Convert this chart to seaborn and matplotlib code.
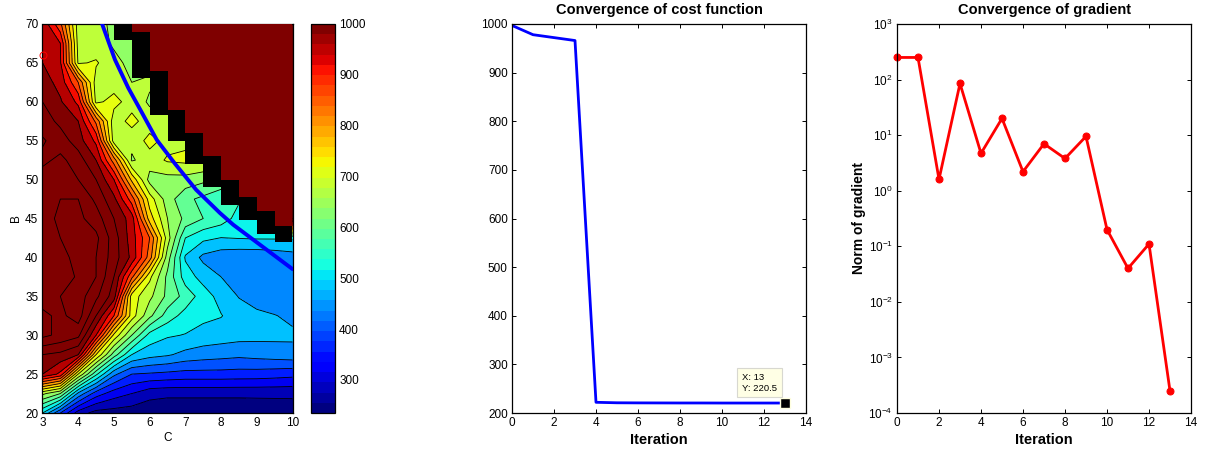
import numpy as np
import seaborn as sns
import matplotlib
matplotlib.use('Agg')
import matplotlib.pyplot as plt
from matplotlib.cm import ScalarMappable
from matplotlib.colors import Normalize

# contour data, rows are B = 70 ... 20, columns C = 3 ... 10
c_vals = [3, 3.5, 4, 4.5, 5, 5.5, 6, 6.5, 7, 7.5, 8, 8.5, 9, 9.5, 10]
b_vals = [70, 67.5, 65, 62.5, 60, 57.5, 55, 52.5, 50, 47.5, 45, 42.5, 40, 37.5, 35, 32.5, 30, 27.5, 25, 22.5, 20]
cost_grid = [
    [990, 890, 700, 695, 670, 660, 660, 660, 660, 660, 660, 660, 660, 660, 1100],
    [985, 960, 705, 695, 675, 665, 660, 660, 660, 660, 660, 660, 660, 660, 1100],
    [1000, 965, 715, 725, 690, 670, 670, 670, 670, 670, 670, 670, 670, 670, 1100],
    [1020, 985, 880, 700, 700, 680, 685, 685, 685, 685, 685, 685, 685, 685, 1100],
    [1040, 1005, 950, 710, 735, 700, 675, 675, 675, 675, 675, 675, 675, 675, 1100],
    [1060, 1030, 1000, 870, 695, 735, 695, 695, 695, 695, 695, 695, 695, 695, 1100],
    [1085, 1060, 1020, 950, 700, 690, 735, 705, 710, 710, 710, 710, 710, 710, 1100],
    [1070, 1090, 1060, 1000, 860, 675, 700, 725, 730, 725, 725, 725, 725, 725, 1100],
    [1100, 1090, 1080, 1040, 960, 790, 665, 665, 665, 650, 620, 620, 620, 620, 1100],
    [1110, 1120, 1120, 1070, 1010, 900, 740, 660, 610, 590, 580, 565, 550, 550, 1100],
    [1100, 1130, 1130, 1100, 1040, 980, 780, 680, 630, 600, 580, 545, 540, 540, 1100],
    [1100, 1120, 1140, 1130, 1060, 980, 880, 700, 560, 530, 519, 522, 524, 524, 526],
    [1110, 1110, 1130, 1120, 1060, 990, 860, 660, 515, 470, 455, 450, 450, 455, 462],
    [1100, 1080, 1130, 1120, 1040, 890, 730, 630, 540, 505, 480, 455, 445, 440, 445],
    [1100, 1120, 1140, 1090, 1020, 740, 690, 630, 585, 540, 505, 478, 460, 450, 450],
    [1130, 1110, 1140, 1040, 920, 740, 650, 580, 545, 530, 522, 500, 490, 482, 470],
    [1130, 1110, 1090, 960, 750, 640, 545, 525, 518, 505, 500, 495, 492, 490, 488],
    [1040, 1030, 1000, 760, 620, 520, 495, 485, 468, 460, 455, 450, 455, 460, 465],
    [1000, 950, 720, 570, 450, 400, 395, 390, 385, 385, 385, 383, 382, 378, 373],
    [690, 640, 470, 380, 340, 320, 295, 290, 290, 290, 290, 290, 290, 290, 290],
    [520, 400, 300, 265, 262, 258, 250, 245, 245, 245, 245, 245, 248, 250, 252],
]
# black staircase
wall_left = [5, 5.5, 6, 6.5, 7, 7.5, 8, 8.5, 9, 9.5]
wall_bottom = [68, 63, 58.3, 55, 52, 49, 46.7, 44.8, 43, 42]
wall_top = [70, 69, 64, 59, 56, 53, 50, 47.7, 46, 44]
# blue path over the contour
path_c = [4.67, 5.03, 5.4, 5.82, 6.2, 6.7, 7.3, 7.97, 8.34, 10]
path_b = [70, 65.4, 61.8, 58.3, 55.1, 52.1, 48.7, 45.7, 44.2, 38.5]

iters = list(range(14))
cost = [997, 978, 972, 966, 222, 221, 220.8, 220.7, 220.6, 220.6, 220.5, 220.5, 220.5, 220.5]
grad = [250, 250, 1.6, 85, 4.7, 20, 2.2, 7, 3.8, 9.5, 0.2, 0.04, 0.11, 0.00025]

sns.set_style('white')
plt.rcParams['font.family'] = ['Liberation Sans', 'DejaVu Sans']
plt.rcParams['mathtext.fontset'] = 'custom'
plt.rcParams['mathtext.rm'] = 'Liberation Sans'
plt.rcParams['mathtext.default'] = 'regular'
plt.rcParams['xtick.direction'] = 'in'
plt.rcParams['ytick.direction'] = 'in'
plt.rcParams['xtick.bottom'] = True
plt.rcParams['xtick.top'] = True
plt.rcParams['ytick.left'] = True
plt.rcParams['ytick.right'] = True
plt.rcParams['axes.edgecolor'] = 'black'
plt.rcParams['text.color'] = 'black'
plt.rcParams['axes.labelcolor'] = 'black'
plt.rcParams['axes.titlecolor'] = 'black'
plt.rcParams['xtick.color'] = 'black'
plt.rcParams['ytick.color'] = 'black'
plt.rcParams['font.size'] = 8.5

W, H = 1220, 450
fig = plt.figure(figsize=(12.2, 4.5), dpi=100)

def add_ax(x0, x1, y0, y1):
    return fig.add_axes([x0 / W, 1 - y1 / H, (x1 - x0) / W, (y1 - y0) / H])

ax1 = add_ax(42.5, 292.5, 24, 413)
cax = add_ax(311, 335, 24, 413)
ax2 = add_ax(512, 806, 24, 413)
ax3 = add_ax(897, 1191, 24, 413)

# contour panel
levels = np.arange(240, 1241, 40)
ax1.contourf(c_vals, b_vals, cost_grid, levels=levels, cmap='jet', vmin=264, vmax=1018, extend='both')
ax1.contour(c_vals, b_vals, cost_grid, levels=levels, colors='k', linewidths=0.6)
for left, bot, top in zip(wall_left, wall_bottom, wall_top):
    ax1.bar(left, top - bot, bottom=bot, width=0.5, align='edge', color='k', linewidth=0, zorder=3)
    ax1.bar(left, 70 - top, bottom=top, width=0.5, align='edge', color='#7f0000', linewidth=0, zorder=3)
sns.lineplot(x=path_c, y=path_b, sort=False, color='b', linewidth=2.8, ax=ax1, zorder=4)
ax1.plot(3, 66, 'o', mfc='none', mec='r', ms=5, mew=0.7, clip_on=False, zorder=5)
ax1.set_xlim(3, 10)
ax1.set_ylim(20, 70)
ax1.set_xticks(range(3, 11))
ax1.set_yticks(range(20, 71, 5))
ax1.set_xlabel('C', fontsize=8.5, labelpad=2)
ax1.set_ylabel('B', fontsize=8.5, labelpad=2)

sm = ScalarMappable(norm=Normalize(235, 1000), cmap=plt.get_cmap('jet', 38))
cb = fig.colorbar(sm, cax=cax)
cb.set_ticks(range(300, 1001, 100))
cax.tick_params(left=True, right=True, direction='in', length=3, width=0.7, pad=3)

# cost panel
sns.lineplot(x=iters, y=cost, color='b', linewidth=2, ax=ax2)
ax2.plot(13, 220.5, 's', color='k', mec='#ffffe0', ms=7, mew=1, zorder=5)
ax2.text(10.95, 262, 'X: 13\nY: 220.5', fontsize=6.8, va='center', ha='left', linespacing=1.2,
         bbox=dict(boxstyle='square,pad=0.5', fc='#ffffe5', ec='#d8d8d0', lw=0.8), zorder=6)
ax2.set_xlim(0, 14)
ax2.set_ylim(200, 1000)
ax2.set_yticks(range(200, 1001, 100))
ax2.set_title('Convergence of cost function', fontsize=10.5, fontweight='bold', pad=7)
ax2.set_xlabel('Iteration', fontsize=10.5, fontweight='bold', labelpad=3)

# gradient panel
sns.lineplot(x=iters, y=grad, color='r', linewidth=2, marker='o', markersize=5, markeredgecolor='r', clip_on=False, ax=ax3)
ax3.set_yscale('log')
ax3.set_xlim(0, 14)
ax3.set_ylim(1e-4, 1e3)
ax3.minorticks_off()
ax3.set_title('Convergence of gradient', fontsize=10.5, fontweight='bold', pad=7)
ax3.set_xlabel('Iteration', fontsize=10.5, fontweight='bold', labelpad=3)
ax3.set_ylabel('Norm of gradient', fontsize=10, fontweight='bold', labelpad=2)

for ax in (ax2, ax3):
    ax.set_xticks(range(0, 15, 2))
for ax in (ax1, ax2, ax3):
    ax.tick_params(length=3, width=0.7, pad=3, labelsize=8.5)
for ax in (ax1, cax, ax2, ax3):
    for s in ax.spines.values():
        s.set_linewidth(0.9)
        s.set_color('k')

fig.savefig('out.png', dpi=100)
